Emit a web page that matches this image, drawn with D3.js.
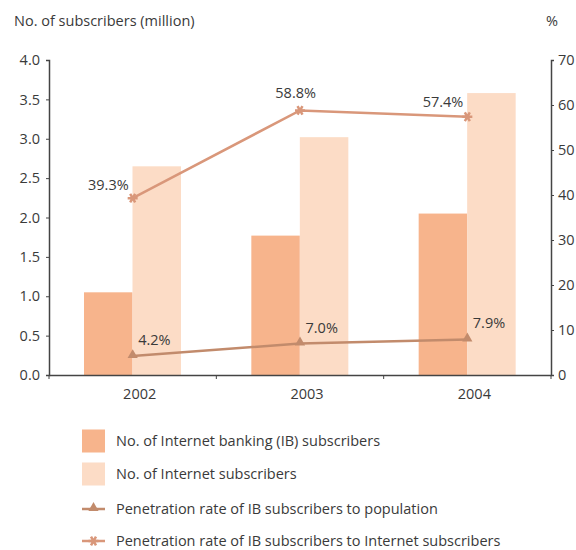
<!DOCTYPE html>
<html lang="en">
<head>
    <meta charset="utf-8">
    <title>Internet banking subscribers</title>
    <script type="text/javascript" src="https://d3js.org/d3.v7.min.js"></script>
    <style>
        body { margin: 0; background: #fff; }
        text { font-family: "Open Sans", sans-serif; fill: #3a3a3a; }
    </style>
</head>
<body>
    <script type="text/javascript">

        // Chart data
        var years = ["2002", "2003", "2004"];
        var ibSubscribers = [1.05, 1.77, 2.05];
        var internetSubscribers = [2.65, 3.02, 3.58];
        var ratePopulation = [4.2, 7.0, 7.9];
        var rateInternet = [39.3, 58.8, 57.4];
        var leftTicks = [0, 0.5, 1, 1.5, 2, 2.5, 3, 3.5, 4];
        var rightTicks = [0, 10, 20, 30, 40, 50, 60, 70];
        var legendLabels = [
            "No. of Internet banking (IB) subscribers",
            "No. of Internet subscribers",
            "Penetration rate of IB subscribers to population",
            "Penetration rate of IB subscribers to Internet subscribers"
        ];

        var colIB = "#f7b48c", colNet = "#fcdcc6", colPop = "#c28b6c", colRate = "#d9977a";
        var fs = "14.5px";

        var svg = d3.select("body").append("svg")
            .attr("width", 576)
            .attr("height", 550);

        var plotLeft = 49, plotRight = 551, plotTop = 60, plotBottom = 375;

        var x = d3.scaleBand().domain(years).range([plotLeft, plotRight]);
        var yL = d3.scaleLinear().domain([0, 4]).range([plotBottom, plotTop]);
        var yR = d3.scaleLinear().domain([0, 70]).range([plotBottom, plotTop]);

        var barW = 48.5, pad = 35;

        // Bars
        svg.selectAll("rect.ib").data(years).enter().append("rect")
            .attr("x", function(d) { return x(d) + pad; })
            .attr("y", function(d, i) { return yL(ibSubscribers[i]); })
            .attr("width", barW)
            .attr("height", function(d, i) { return plotBottom - yL(ibSubscribers[i]); })
            .attr("fill", colIB);

        svg.selectAll("rect.net").data(years).enter().append("rect")
            .attr("x", function(d) { return x(d) + pad + barW; })
            .attr("y", function(d, i) { return yL(internetSubscribers[i]); })
            .attr("width", barW)
            .attr("height", function(d, i) { return plotBottom - yL(internetSubscribers[i]); })
            .attr("fill", colNet);

        // Axes
        var axL = svg.append("g").attr("transform", "translate(" + plotLeft + ",0)")
            .call(d3.axisLeft(yL).tickValues(leftTicks).tickFormat(d3.format(".1f")).tickSize(3).tickPadding(6));
        var axR = svg.append("g").attr("transform", "translate(" + plotRight + ",0)")
            .call(d3.axisRight(yR).tickValues(rightTicks).tickSize(3).tickPadding(4));
        var axB = svg.append("g").attr("transform", "translate(0," + plotBottom + ")")
            .call(d3.axisBottom(x).tickSize(0).tickPadding(14));

        [axL, axR, axB].forEach(function(g) {
            g.select(".domain").attr("stroke", "#444").attr("stroke-width", 1.5);
            g.selectAll(".tick line").attr("stroke", "#444");
            g.selectAll("text").style("font-size", fs).attr("fill", "#3a3a3a");
        });
        axB.selectAll(".tick text").attr("dx", 7);

        // Category boundary ticks on the x axis
        svg.selectAll("line.xb").data(years.concat(["end"])).enter().append("line")
            .attr("x1", function(d, i) { return i < 3 ? x(d) : plotRight; })
            .attr("x2", function(d, i) { return i < 3 ? x(d) : plotRight; })
            .attr("y1", plotBottom).attr("y2", plotBottom + 4)
            .attr("stroke", "#444");

        var cx = function(d) { return x(d) + x.bandwidth() / 2; };

        // Lines
        var rateLine = d3.line().x(function(d, i) { return cx(years[i]); }).y(function(d) { return yR(d); });

        svg.append("path").datum(ratePopulation)
            .attr("d", rateLine).attr("fill", "none")
            .attr("stroke", colPop).attr("stroke-width", 2.5);
        svg.append("path").datum(rateInternet)
            .attr("d", rateLine).attr("fill", "none")
            .attr("stroke", colRate).attr("stroke-width", 2.5);

        var tri = d3.symbol().type(d3.symbolTriangle).size(45);
        var star = d3.symbol().type(d3.symbolAsterisk).size(70);

        svg.selectAll("path.tri").data(ratePopulation).enter().append("path")
            .attr("d", tri)
            .attr("transform", function(d, i) { return "translate(" + cx(years[i]) + "," + (yR(d) - 1) + ")"; })
            .attr("fill", colPop);

        svg.selectAll("path.star").data(rateInternet).enter().append("path")
            .attr("d", star)
            .attr("transform", function(d, i) { return "translate(" + cx(years[i]) + "," + yR(d) + ") rotate(90)"; })
            .attr("fill", "none").attr("stroke", colRate).attr("stroke-width", 2.5);

        // Value labels
        var rateOffsets = [[-4, -8], [16, -12], [-4, -10]];
        svg.selectAll("text.rl").data(rateInternet).enter().append("text")
            .attr("x", function(d, i) { return cx(years[i]) + rateOffsets[i][0]; })
            .attr("y", function(d, i) { return yR(d) + rateOffsets[i][1]; })
            .attr("text-anchor", "end")
            .style("font-size", fs)
            .text(function(d) { return d.toFixed(1) + "%"; });

        svg.selectAll("text.pl").data(ratePopulation).enter().append("text")
            .attr("x", function(d, i) { return cx(years[i]) + 5.5; })
            .attr("y", function(d) { return yR(d) - 11; })
            .style("font-size", fs)
            .text(function(d) { return d.toFixed(1) + "%"; });

        // Axis titles
        svg.append("text").attr("x", 14).attr("y", 26).style("font-size", fs)
            .text("No. of subscribers (million)");
        svg.append("text").attr("x", 552).attr("y", 26).attr("text-anchor", "middle").style("font-size", fs)
            .text("%");

        // Legend
        var legY = [441, 474, 509, 541];
        var leg = svg.selectAll("g.leg").data(legendLabels).enter().append("g")
            .attr("transform", function(d, i) { return "translate(82," + legY[i] + ")"; });

        leg.each(function(d, i) {
            var g = d3.select(this);
            if (i < 2) {
                g.append("rect").attr("x", 0).attr("y", -11.5).attr("width", 23).attr("height", 23)
                    .attr("fill", i === 0 ? colIB : colNet);
            } else {
                var c = i === 2 ? colPop : colRate;
                g.append("line").attr("x1", 0).attr("x2", 23).attr("stroke", c).attr("stroke-width", 2.5);
                if (i === 2) {
                    g.append("path").attr("d", tri).attr("transform", "translate(11.5,-1)").attr("fill", c);
                } else {
                    g.append("path").attr("d", star).attr("transform", "translate(11.5,0) rotate(90)")
                        .attr("fill", "none").attr("stroke", c).attr("stroke-width", 2.5);
                }
            }
            g.append("text").attr("x", 34).attr("y", 5).style("font-size", fs).text(d);
        });

    </script>
</body>
</html>
